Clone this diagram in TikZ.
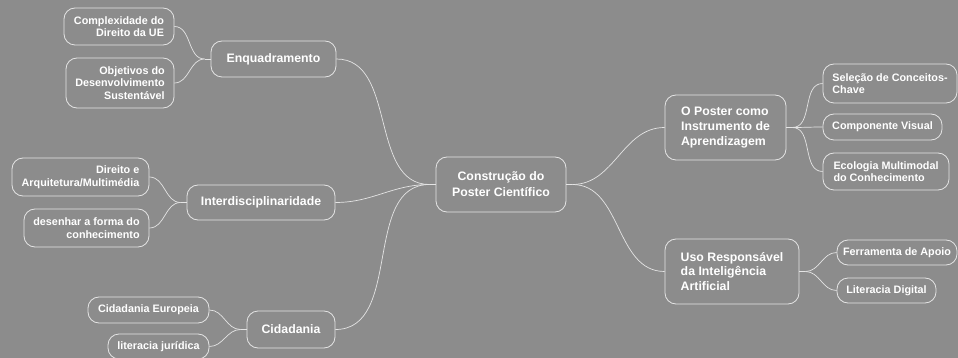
\documentclass[tikz,border=0pt]{standalone}
\usepackage{fontspec}
\setmainfont{Liberation Sans}
\definecolor{bgc}{RGB}{140,140,140}
\definecolor{linec}{RGB}{228,228,228}
\begin{document}
\begin{tikzpicture}[x=1pt,y=-1pt,
  box/.style={draw=linec, rounded corners=11pt, line width=0.8pt, text=white, inner sep=0pt},
  bigtext/.style={font=\bfseries\fontsize{12.3}{15}\selectfont},
  smalltext/.style={font=\bfseries\fontsize{10.8}{12.5}\selectfont},
  link/.style={draw=linec, line width=0.7pt}]
\fill[bgc] (0,0) rectangle (958,358);
\useasboundingbox (0,0) rectangle (958,358);
% central
\node[box,bigtext,align=center,minimum width=130pt,minimum height=55pt,font=\bfseries\fontsize{12.3}{16}\selectfont] (ctr) at (501,184.5) {Construção do\\Poster Científico};
% left level 1
\node[box,bigtext,minimum width=125pt,minimum height=36pt] (enq) at (273.5,59) {Enquadramento};
\node[box,bigtext,minimum width=148pt,minimum height=35pt] (inter) at (261,202.5) {Interdisciplinaridade};
\node[box,bigtext,minimum width=88pt,minimum height=37pt] (cid) at (291,329.5) {Cidadania};
% right level 1
\node[box,bigtext,align=left,minimum width=121pt,minimum height=65pt,font=\bfseries\fontsize{12.3}{14.6}\selectfont] (pos) at (725.5,127.5) {O Poster como\\Instrumento de\\Aprendizagem};
\node[box,bigtext,align=left,minimum width=134pt,minimum height=65pt,font=\bfseries\fontsize{12.3}{14.6}\selectfont] (ia) at (732,271.5) {Uso Responsável\\da Inteligência\\Artificial};
% left leaves
\node[box,smalltext,align=right,minimum width=110pt,minimum height=37pt] (c1) at (119,26.5) {Complexidade do\\Direito da UE};
\node[box,smalltext,align=right,minimum width=108pt,minimum height=50pt] (c2) at (120,83) {Objetivos do\\Desenvolvimento\\Sustentável};
\node[box,smalltext,align=right,minimum width=137pt,minimum height=38pt] (c3) at (80.5,177) {Direito e\\Arquitetura/Multimédia};
\node[box,smalltext,align=right,minimum width=125pt,minimum height=38pt] (c4) at (86.5,228) {desenhar a forma do\\conhecimento};
\node[box,smalltext,minimum width=121pt,minimum height=26pt] (c5) at (148.5,310) {Cidadania Europeia};
\node[box,smalltext,minimum width=101pt,minimum height=25pt] (c6) at (158.5,346.5) {literacia jurídica};
% right leaves
\node[box,smalltext,align=left,minimum width=134pt,minimum height=39pt] (c7) at (890,83.5) {Seleção de Conceitos-\\Chave};
\node[box,smalltext,minimum width=119pt,minimum height=26pt] (c8) at (882.5,127) {Componente Visual};
\node[box,smalltext,align=left,minimum width=126pt,minimum height=37pt] (c9) at (886,171.5) {Ecologia Multimodal\\do Conhecimento};
\node[box,smalltext,minimum width=120pt,minimum height=25pt] (c10) at (897,252.5) {Ferramenta de Apoio};
\node[box,smalltext,minimum width=99pt,minimum height=25pt] (c11) at (886.5,290.5) {Literacia Digital};
% junction coordinates
\coordinate (jc) at ([xshift=-6pt]ctr.west);
\coordinate (jcr) at ([xshift=6pt]ctr.east);
\coordinate (je) at ([xshift=-6pt]enq.west);
\coordinate (ji) at ([xshift=-6pt]inter.west);
\coordinate (jd) at ([xshift=-6pt]cid.west);
\coordinate (jp) at ([xshift=6pt]pos.east);
\coordinate (ja) at ([xshift=6pt]ia.east);
% links
\draw[link] (ctr.west) -- (jc);
\draw[link] (jc) to[out=180,in=0] (enq.east);
\draw[link] (jc) to[out=180,in=0] (inter.east);
\draw[link] (jc) to[out=180,in=0] (cid.east);
\draw[link] (ctr.east) -- (jcr);
\draw[link] (jcr) to[out=0,in=180] (pos.west);
\draw[link] (jcr) to[out=0,in=180] (ia.west);
\draw[link] (enq.west) -- (je);
\draw[link] (je) to[out=180,in=0] (c1.east);
\draw[link] (je) to[out=180,in=0] (c2.east);
\draw[link] (inter.west) -- (ji);
\draw[link] (ji) to[out=180,in=0] (c3.east);
\draw[link] (ji) to[out=180,in=0] (c4.east);
\draw[link] (cid.west) -- (jd);
\draw[link] (jd) to[out=180,in=0] (c5.east);
\draw[link] (jd) to[out=180,in=0] (c6.east);
\draw[link] (pos.east) -- (jp);
\draw[link] (jp) to[out=0,in=180] (c7.west);
\draw[link] (jp) to[out=0,in=180] (c8.west);
\draw[link] (jp) to[out=0,in=180] (c9.west);
\draw[link] (ia.east) -- (ja);
\draw[link] (ja) to[out=0,in=180] (c10.west);
\draw[link] (ja) to[out=0,in=180] (c11.west);
\end{tikzpicture}
\end{document}
